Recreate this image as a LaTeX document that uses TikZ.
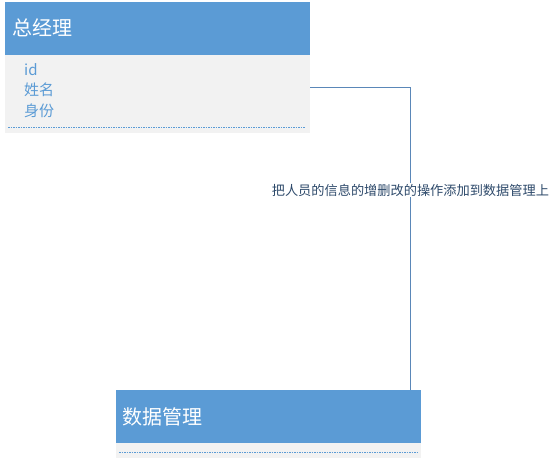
\documentclass[tikz,border=0pt]{standalone}
\usepackage{fontspec}
\newfontfamily\cjk{Noto Sans CJK SC}
\usetikzlibrary{positioning}
\definecolor{headc}{HTML}{5B9BD5}
\definecolor{bodyc}{HTML}{F2F2F2}
\definecolor{linec}{HTML}{5A87B8}
\definecolor{labelc}{HTML}{2E4A6B}

\begin{document}
\begin{tikzpicture}[x=1pt,y=-1pt,
  headbox/.style={anchor=north west,fill=headc,shape=rectangle,inner sep=0pt,minimum width=305pt,minimum height=53pt},
  bodybox/.style={anchor=north west,fill=bodyc,shape=rectangle,inner sep=0pt,minimum width=305pt},
  headtext/.style={anchor=west,text=white,font=\cjk\fontsize{20}{20}\selectfont,inner sep=0pt},
  attrtext/.style={anchor=west,text=headc,font=\cjk\fontsize{15}{15}\selectfont,inner sep=0pt},
  sepline/.style={headc,line width=0.8pt,dash pattern=on 1.5pt off 1pt}]
\useasboundingbox (0,0) rectangle (558,460);

% upper entity
\node[headbox] (title1) at (5,2) {};
\node[bodybox,minimum height=78pt] (body1) at (5,55) {};
\node[headtext] (name1) at (12,28) {总经理};
\node[attrtext] (attr1) at (24,70) {id};
\node[attrtext] (attr2) at (24,90) {姓名};
\node[attrtext] (attr3) at (24,111) {身份};
\draw[sepline] ([xshift=3pt,yshift=6pt]body1.south west) -- ([xshift=-5pt,yshift=6pt]body1.south east);

% lower entity
\node[headbox] (title2) at (116,390) {};
\node[bodybox,minimum height=15pt] (body2) at (116,443) {};
\node[headtext] (name2) at (122,417) {数据管理};
\draw[sepline] ([xshift=3pt,yshift=6pt]body2.south west) -- ([xshift=-3pt,yshift=6pt]body2.south east);

% connector
\draw[linec,line width=0.6pt] ([yshift=-32pt]body1.north east) -| ([xshift=-11pt]title2.north east)
  node[pos=0.67,fill=white,text=labelc,inner sep=1pt,font=\cjk\fontsize{13.2}{13.2}\selectfont] (lab) {把人员的信息的增删改的操作添加到数据管理上};

\end{tikzpicture}
\end{document}
